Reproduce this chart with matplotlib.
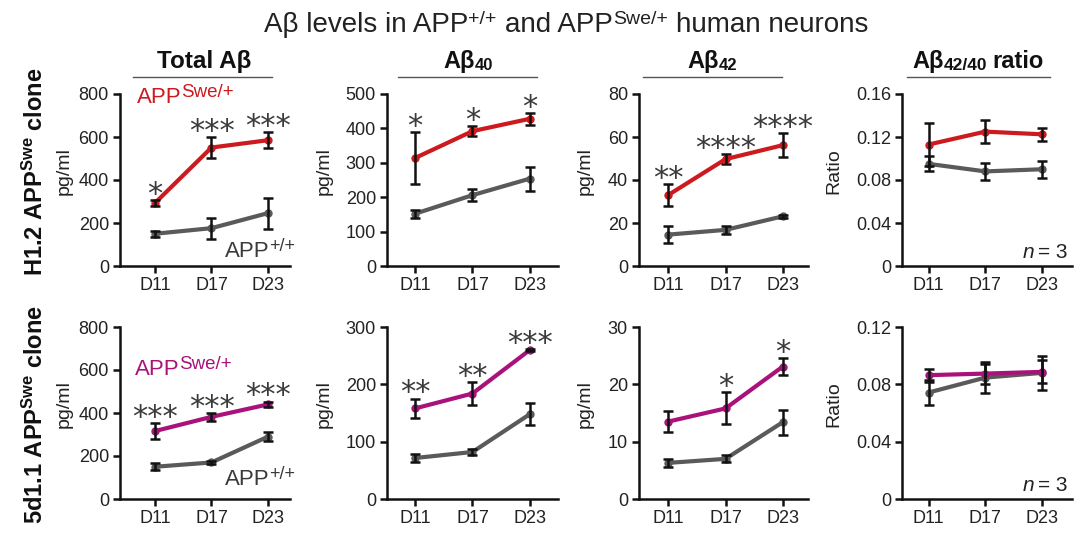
import matplotlib
matplotlib.use("Agg")
import matplotlib.pyplot as plt
from matplotlib.lines import Line2D

plt.rcParams['font.family'] = ['Liberation Sans', 'DejaVu Sans']
plt.rcParams['mathtext.fontset'] = 'custom'
plt.rcParams['mathtext.rm'] = 'Liberation Sans'
plt.rcParams['mathtext.it'] = 'Liberation Sans:italic'
plt.rcParams['mathtext.bf'] = 'Liberation Sans:bold'
plt.rcParams['mathtext.default'] = 'regular'

# ---------------- data ----------------
days = ["D11", "D17", "D23"]

# Row 1: H1.2 APP^Swe clone
h1_total_wt = [150, 176, 246]
h1_total_wt_err = [15, 49, 72]
h1_total_swe = [293, 551, 585]
h1_total_swe_err = [15, 47, 37]
h1_ab40_wt = [152, 206, 254]
h1_ab40_wt_err = [12, 17, 35]
h1_ab40_swe = [314, 392, 428]
h1_ab40_swe_err = [76, 15, 17]
h1_ab42_wt = [14.6, 16.8, 23.1]
h1_ab42_wt_err = [4.0, 1.8, 0.6]
h1_ab42_swe = [33.0, 49.7, 56.2]
h1_ab42_swe_err = [5.0, 2.3, 5.5]
h1_ratio_wt = [0.095, 0.088, 0.090]
h1_ratio_wt_err = [0.007, 0.008, 0.008]
h1_ratio_swe = [0.113, 0.125, 0.1225]
h1_ratio_swe_err = [0.020, 0.011, 0.006]

# Row 2: 5d1.1 APP^Swe clone
d5_total_wt = [150, 170, 290]
d5_total_wt_err = [17, 8, 20]
d5_total_swe = [316, 382, 440]
d5_total_swe_err = [36, 18, 13]
d5_ab40_wt = [71.5, 82, 148]
d5_ab40_wt_err = [6.5, 5, 19]
d5_ab40_swe = [158, 184, 260]
d5_ab40_swe_err = [17, 20, 2]
d5_ab42_wt = [6.3, 7.0, 13.4]
d5_ab42_wt_err = [0.7, 0.6, 2.2]
d5_ab42_swe = [13.5, 15.8, 23.1]
d5_ab42_swe_err = [1.8, 2.8, 1.5]
d5_ratio_wt = [0.0743, 0.0847, 0.088]
d5_ratio_wt_err = [0.009, 0.011, 0.012]
d5_ratio_swe = [0.0864, 0.0875, 0.0887]
d5_ratio_swe_err = [0.0045, 0.007, 0.008]

# significance labels
h1_stars = [["*", "***", "***"], ["*", "*", "*"], ["**", "****", "****"], ["", "", ""]]
d5_stars = [["***", "***", "***"], ["**", "**", "***"], ["", "*", "*"], ["", "", ""]]

# y ticks
h1_yticks = [[0, 200, 400, 600, 800], [0, 100, 200, 300, 400, 500],
             [0, 20, 40, 60, 80], [0, 0.04, 0.08, 0.12, 0.16]]
d5_yticks = [[0, 200, 400, 600, 800], [0, 100, 200, 300],
             [0, 10, 20, 30], [0, 0.04, 0.08, 0.12]]
ratio_ticklabels_h1 = ["0", "0.04", "0.08", "0.12", "0.16"]
ratio_ticklabels_d5 = ["0", "0.04", "0.08", "0.12"]

ylabels = ["pg/ml", "pg/ml", "pg/ml", "Ratio"]
row_names = ["H1.2 APP$^{Swe}$ clone", "5d1.1 APP$^{Swe}$ clone"]

# ---------------- style ----------------
W, H = 1080, 543
RED = "#cc1a1e"
MAG = "#a8127a"
GREY = "#5a5a5a"
DARK = "#222222"

fig = plt.figure(figsize=(W / 100, H / 100), dpi=100)
renderer = fig.canvas.get_renderer()


def rich_text(pieces, x_px, y_px, ha="left", weight="normal", color=DARK, style=None):
    """pieces: (text, size, rise_px, gap_before_px); x/y in pixels from top-left."""
    widths = []
    for txt, size, rise, gap in pieces:
        t = fig.text(0, 0, txt, fontsize=size, fontweight=weight)
        widths.append(t.get_window_extent(renderer).width)
        t.remove()
    total = sum(widths) + sum(p[3] for p in pieces)
    if ha == "center":
        cur = x_px - total / 2
    elif ha == "right":
        cur = x_px - total
    else:
        cur = x_px
    out = []
    for (txt, size, rise, gap), w in zip(pieces, widths):
        cur += gap
        out.append(fig.text(cur / W, 1 - (y_px - rise) / H, txt, fontsize=size,
                            fontweight=weight, color=color, ha="left", va="baseline"))
        cur += w
    return out


# column geometry in pixels: (left, right, xlim)
cols = [(120, 290, (-0.62, 2.39)),
        (387, 558, (-0.49, 2.49)),
        (639, 808, (-0.51, 2.44)),
        (902, 1072, (-0.47, 2.53))]
rows = [(94, 266), (327, 499)]
ylab_x = [-0.28, -0.32, -0.27, -0.35]


def make_ax(c, r):
    l, rr, xl = cols[c]
    t, b = rows[r]
    ax = fig.add_axes([l / W, 1 - b / H, (rr - l) / W, (b - t) / H])
    ax.set_xlim(*xl)
    for s in ("top", "right"):
        ax.spines[s].set_visible(False)
    for s in ("left", "bottom"):
        ax.spines[s].set_linewidth(1.8)
        ax.spines[s].set_color("#111111")
    ax.tick_params(width=1.8, length=5, labelsize=13, colors="#111111",
                   labelcolor=DARK, pad=3)
    ax.set_xticks(range(3))
    ax.set_xticklabels(days)
    ax.set_facecolor("none")
    return ax


row_data = [
    [(h1_total_wt, h1_total_wt_err, h1_total_swe, h1_total_swe_err),
     (h1_ab40_wt, h1_ab40_wt_err, h1_ab40_swe, h1_ab40_swe_err),
     (h1_ab42_wt, h1_ab42_wt_err, h1_ab42_swe, h1_ab42_swe_err),
     (h1_ratio_wt, h1_ratio_wt_err, h1_ratio_swe, h1_ratio_swe_err)],
    [(d5_total_wt, d5_total_wt_err, d5_total_swe, d5_total_swe_err),
     (d5_ab40_wt, d5_ab40_wt_err, d5_ab40_swe, d5_ab40_swe_err),
     (d5_ab42_wt, d5_ab42_wt_err, d5_ab42_swe, d5_ab42_swe_err),
     (d5_ratio_wt, d5_ratio_wt_err, d5_ratio_swe, d5_ratio_swe_err)],
]
row_stars = [h1_stars, d5_stars]
row_yticks = [h1_yticks, d5_yticks]
row_colors = [RED, MAG]
ratio_labels = [ratio_ticklabels_h1, ratio_ticklabels_d5]

x = list(range(3))
for r in range(2):
    for c in range(4):
        ax = make_ax(c, r)
        wt, wte, sw, swe = row_data[r][c]
        col = row_colors[r]
        ax.plot(x, wt, color=GREY, lw=3.0, marker="o", ms=5, zorder=2,
                solid_capstyle="round")
        ax.plot(x, sw, color=col, lw=3.0, marker="o", ms=5, zorder=2,
                solid_capstyle="round")
        for vals, errs in ((wt, wte), (sw, swe)):
            ax.errorbar(x, vals, yerr=errs, fmt="none", ecolor="#111111",
                        elinewidth=1.8, capsize=3.6, capthick=1.8, zorder=3)
        yt = row_yticks[r][c]
        ax.set_ylim(0, yt[-1])
        ax.set_yticks(yt)
        if c == 3:
            ax.set_yticklabels(ratio_labels[r])
        ax.set_ylabel(ylabels[c], fontsize=14, color=DARK)
        ax.yaxis.set_label_coords(ylab_x[c], 0.55)
        for i, s in enumerate(row_stars[r][c]):
            if not s:
                continue
            top = max(wt[i] + wte[i], sw[i] + swe[i])
            ax.annotate(s, (x[i], top), xytext=(0, -2), textcoords="offset points",
                        ha="center", va="baseline", fontsize=22,
                        family="DejaVu Sans", color="#3a3a3a",
                        annotation_clip=False)
        if c == 3:
            parts = rich_text([("n", 15, 0, 0), ("= 3", 15, 0, 4)], 1068,
                              rows[r][1] - 8, ha="right")
            parts[0].set_fontstyle("italic")

# series labels in first column
rich_text([("APP", 16, 0, 0), ("Swe/+", 13.5, 6, -1)], 137, 103, color=RED)
rich_text([("APP", 16, 0, 0), ("+/+", 13, 6, -1)], 295, 257, ha="right", color="#3a3a3a")
rich_text([("APP", 16, 0, 0), ("Swe/+", 13.5, 6, -1)], 135, 375, color=MAG)
rich_text([("APP", 16, 0, 0), ("+/+", 13, 6, -1)], 295, 485, ha="right", color="#3a3a3a")

# column titles with underline
title_centers = [204, 468, 712, 978]
col_title_pieces = [
    [("Total Aβ", 17.5, 0, 0)],
    [("Aβ", 17, 0, 0), ("40", 12, -2, 0)],
    [("Aβ", 17, 0, 0), ("42", 12, -2, 0)],
    [("Aβ", 17, 0, 0), ("42/40", 12.5, -2, 0), ("ratio", 17, 0, 5)],
]
underlines = [(133, 272), (398, 537), (643, 782), (907, 1050)]
for c in range(4):
    rich_text(col_title_pieces[c], title_centers[c], 68, ha="center",
              weight="bold", color="#111111")
    x0, x1 = underlines[c]
    fig.add_artist(Line2D([x0 / W, x1 / W], [1 - 77 / H, 1 - 77 / H],
                          color="#555555", lw=1.0))

# row labels
fig.text(35 / W, 1 - 172 / H, row_names[0], rotation=90,
         ha="center", va="center", fontsize=17, fontweight="bold", color="#111111")
fig.text(35 / W, 1 - 415 / H, row_names[1], rotation=90,
         ha="center", va="center", fontsize=17, fontweight="bold", color="#111111")

# main title
rich_text([("Aβ levels in APP", 20, 0, 0), ("+/+", 14, 8, 0),
           ("and APP", 20, 0, 9), ("Swe/+", 14, 8, 0), ("human neurons", 20, 0, 8)],
          566, 32, ha="center", color=DARK)

fig.savefig("out.png", dpi=100, facecolor="white")
